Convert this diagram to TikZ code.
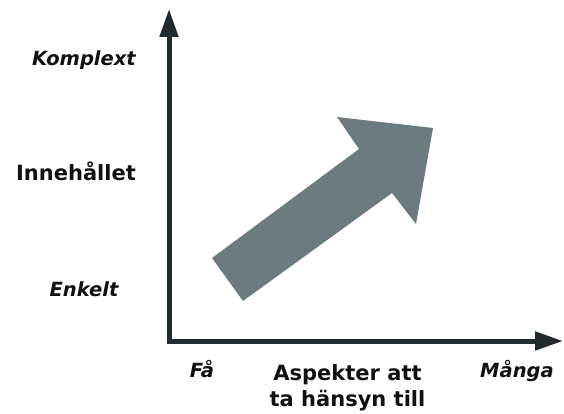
\documentclass[tikz,border=0pt]{standalone}
\usepackage{fontspec}
\setmainfont{DejaVu Sans}
\usetikzlibrary{arrows.meta}
\definecolor{axisdark}{HTML}{1F2B2E}
\definecolor{trendgrey}{HTML}{6B7B80}
\definecolor{inkblack}{HTML}{111111}
\tikzset{
  axisline/.style={draw=axisdark, line width=5pt, miter limit=10,
    {Triangle[length=28pt,width=18pt]}-{Triangle[length=28pt,width=18pt]}},
  trendarrow/.style={fill=trendgrey, draw=none},
  endlabel/.style={font=\fontsize{19.5}{23}\selectfont\bfseries\itshape, text=inkblack, inner sep=0pt, anchor=base},
  axislabel/.style={font=\fontsize{21}{26}\selectfont\bfseries, text=inkblack, inner sep=0pt, align=center}
}
\begin{document}
\begin{tikzpicture}[x=1pt,y=-1pt]
  \useasboundingbox (0,0) rectangle (564,414);
  \fill[white] (0,0) rectangle (564,414);

  % axes
  \coordinate (origin) at (169,341);
  \coordinate (ytip) at (169,9);
  \coordinate (xtip) at (563,341);
  \draw[axisline] (ytip) -- (origin) -- (xtip);

  % broad trend arrow
  \coordinate (tailA) at (212,258);
  \coordinate (tailB) at (243,301);
  \coordinate (neckLow) at (392,193);
  \coordinate (barbLow) at (416,224);
  \coordinate (point) at (433,128);
  \coordinate (barbHigh) at (337,117);
  \coordinate (neckHigh) at (359,149);
  \fill[trendarrow] (tailA) -- (tailB) -- (neckLow) -- (barbLow) -- (point)
    -- (barbHigh) -- (neckHigh) -- cycle;

  % labels on the vertical axis
  \node[endlabel] (komplext) at (84,65.5) {Komplext};
  \node[axislabel, anchor=base] (innehallet) at (76,180) {Innehållet};
  \node[endlabel] (enkelt) at (84,296) {Enkelt};

  % labels on the horizontal axis
  \node[endlabel] (fa) at (202,377) {Få};
  \node[axislabel, anchor=base] (aspekter) at (347.5,406.7) {Aspekter att\\ta hänsyn till};
  \node[endlabel] (manga) at (517,377) {Många};
\end{tikzpicture}
\end{document}
